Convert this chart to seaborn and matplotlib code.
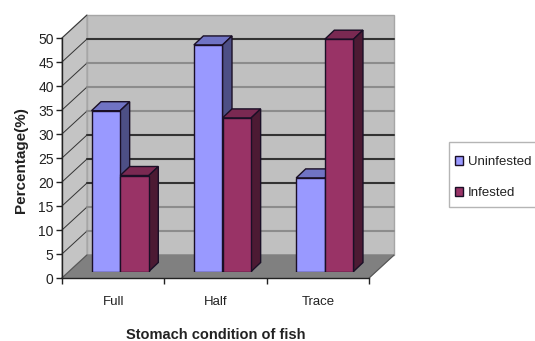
import matplotlib
matplotlib.use('Agg')
import matplotlib.pyplot as plt
from matplotlib.patches import Polygon, Rectangle
import pandas as pd
import seaborn as sns

categories = ['Full', 'Half', 'Trace']
uninfested = [33.5, 47.2, 19.5]
infested = [20.0, 32.0, 48.4]
y_ticks = [0, 5, 10, 15, 20, 25, 30, 35, 40, 45, 50]

W, H = 535, 341
LEFT, RIGHT, TOP, BOTTOM = 62, 369, 38, 278
DX, DY = 25, 23        # depth of the chart box
BAR_DX, BAR_DY = 7, 6.5  # bars stand a bit back from the front plane
SIDE_DX, SIDE_DY = 9.5, 9  # depth of one bar

df = pd.DataFrame({
    'condition': categories * 2,
    'value': uninfested + infested,
    'group': ['Uninfested'] * 3 + ['Infested'] * 3,
})

sns.set_style('white')
plt.rcParams['font.family'] = ['Liberation Sans', 'DejaVu Sans']

fig = plt.figure(figsize=(W / 100, H / 100), dpi=100, facecolor='white')


def box(left, right, top, bottom):
    return [left / W, 1 - bottom / H, (right - left) / W, (bottom - top) / H]


# walls and floor, in pixel coordinates
back = fig.add_axes([0, 0, 1, 1], zorder=0)
back.set_xlim(0, W)
back.set_ylim(H, 0)
back.axis('off')
back.add_patch(Polygon([(LEFT + DX, TOP - DY), (RIGHT + DX, TOP - DY), (RIGHT + DX, BOTTOM - DY), (LEFT + DX, BOTTOM - DY)],
                       fc='#c0c0c0', ec='#a6a6a6', lw=1))
back.add_patch(Polygon([(LEFT, BOTTOM), (LEFT, TOP), (LEFT + DX, TOP - DY), (LEFT + DX, BOTTOM - DY)],
                       fc='#c4c4c4', ec='#a6a6a6', lw=1))
back.add_patch(Polygon([(LEFT, BOTTOM), (RIGHT, BOTTOM), (RIGHT + DX, BOTTOM - DY), (LEFT + DX, BOTTOM - DY)],
                       fc='#808080', ec='#808080', lw=1))
# legend frame runs off the right edge of the picture
back.add_patch(Rectangle((449, 142), 100, 65, fc='white', ec='#b5b5b5', lw=1))

# the scan makes some gridlines look darker than others
line_colors = {5: '#8c8c8c', 10: '#8c8c8c', 15: '#333333', 20: '#333333', 25: '#333333',
               30: '#8c8c8c', 35: '#8c8c8c', 40: '#8c8c8c', 45: '#333333'}
scale = (BOTTOM - TOP) / 50
for v in y_ticks[1:]:
    y = BOTTOM - v * scale
    back.plot([LEFT, LEFT + DX], [y, y - DY], color='#333333', lw=0.7)
    if v < 50:
        back.plot([LEFT + DX, RIGHT + DX], [y - DY, y - DY], color=line_colors[v], lw=1.5)
back.plot([LEFT, LEFT + DX], [BOTTOM, BOTTOM - DY], color='#555555', lw=0.7)
back.plot([RIGHT, RIGHT + DX], [BOTTOM, BOTTOM - DY], color='#555555', lw=0.7)

# axis lines, ticks and labels on the front plane
ax = fig.add_axes(box(LEFT, RIGHT, TOP, BOTTOM), zorder=1)
ax.patch.set_alpha(0)
ax.set_xlim(0, 3)
ax.set_ylim(0, 50)
sns.despine(ax=ax)
for s in ['left', 'bottom']:
    ax.spines[s].set_color('#222222')
    ax.spines[s].set_linewidth(1)
ax.set_yticks(y_ticks)
ax.set_xticks([0, 1, 2, 3])
ax.set_xticklabels([])
ax.set_xticks([0.5, 1.5, 2.5], labels=categories, minor=True)
ax.tick_params(axis='x', which='major', length=4, width=1, color='#222222', bottom=True)
ax.tick_params(axis='x', which='minor', length=0, pad=13, labelsize=9.5, labelcolor='#222222', bottom=False)
ax.tick_params(axis='y', length=4, width=1, color='#222222', left=True, pad=2, labelsize=10, labelcolor='#222222')
ax.set_xlabel('Stomach condition of fish', fontsize=10.5, fontweight='bold', color='#222222', labelpad=14.5)
ax.set_ylabel('Percentage(%)', fontsize=11, fontweight='bold', color='#222222')
ax.yaxis.set_label_coords(-0.11, 0.49)

# bars, shifted back into the box
bars = fig.add_axes(box(LEFT + BAR_DX, RIGHT + BAR_DX, TOP - BAR_DY, BOTTOM - BAR_DY), zorder=2)
bars.patch.set_alpha(0)
sns.barplot(data=df, x='condition', y='value', hue='group', order=categories,
            hue_order=['Uninfested', 'Infested'], palette=['#9999ff', '#993366'],
            width=0.56, gap=0, edgecolor='#1a0f26', linewidth=1, saturation=1, ax=bars)
bars.set_xlim(-0.5, 2.5)
bars.set_ylim(0, 50)
bars.axis('off')

ddx = SIDE_DX * 3 / (RIGHT - LEFT)
ddy = SIDE_DY * 50 / (BOTTOM - TOP)
shades = [('#7073c4', '#4d4f85'), ('#7a2952', '#4c1a33')]
rects = [p for p in bars.patches if p.get_height() > 0]
for i, p in enumerate(rects):
    top_c, side_c = shades[0] if i < 3 else shades[1]
    z = 2 if i < 3 else 3
    p.set_zorder(z + 0.5)
    x0, x1, h = p.get_x(), p.get_x() + p.get_width(), p.get_height()
    bars.add_patch(Polygon([(x0, h), (x1, h), (x1 + ddx, h + ddy), (x0 + ddx, h + ddy)],
                           fc=top_c, ec='#1a0f26', lw=1, zorder=z, clip_on=False))
    bars.add_patch(Polygon([(x1, 0), (x1, h), (x1 + ddx, h + ddy), (x1 + ddx, ddy)],
                           fc=side_c, ec='#1a0f26', lw=1, zorder=z, clip_on=False))

sns.move_legend(bars, loc='upper left', bbox_to_anchor=(455 / W, 1 - 156 / H), bbox_transform=fig.transFigure,
                title=None, frameon=False, fontsize=9.5, handlelength=0.6, handleheight=0.6,
                labelspacing=1.45, handletextpad=0.38, borderpad=0, borderaxespad=0, labelcolor='#222222')

fig.savefig('out.png', dpi=100)
